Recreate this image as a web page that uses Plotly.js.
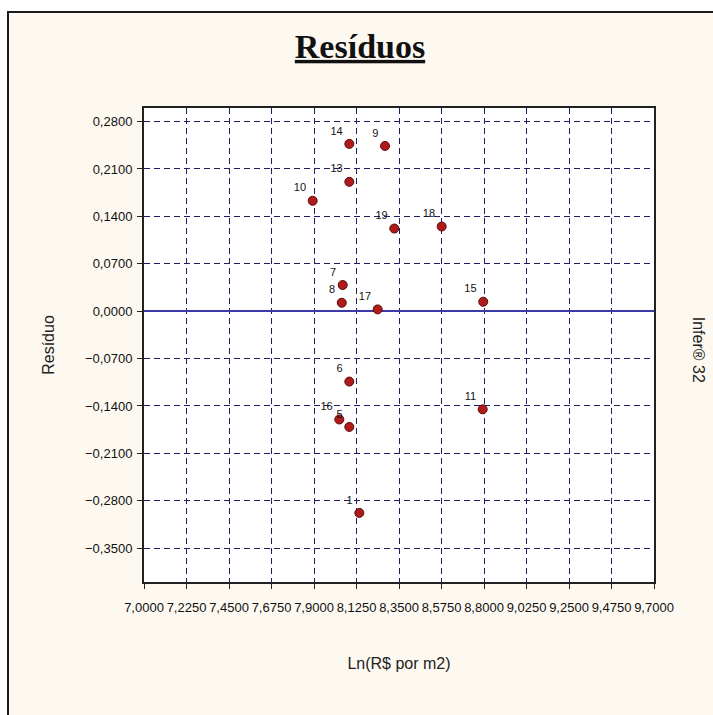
<!DOCTYPE html>
<html>
<head>
<meta charset="utf-8">
<script src="https://cdn.plot.ly/plotly-3.0.1.min.js"></script>
<style>
  html, body { margin: 0; padding: 0; background: #ffffff; }
  #frame { position: absolute; left: 7px; top: 11px; width: 720px; height: 720px;
           border-left: 2px solid #1a1a1a; border-top: 2px solid #1a1a1a; background: #fdf9f1; }
  #chart { position: absolute; left: 0; top: 0; width: 713px; height: 715px; }
</style>
</head>
<body>
<div id="frame"></div>
<div id="chart"></div>
<script>
// Observation numbers
const obsIds = ['1','5','6','7','8','9','10','11','13','14','15','16','17','18','19'];
// Ln(R$ por m2)
const lnPrice = [8.140, 8.087, 8.087, 8.052, 8.047, 8.276, 7.893, 8.793, 8.087, 8.087, 8.796, 8.034, 8.237, 8.576, 8.325];
// Resíduo
const residuals = [-0.298, -0.171, -0.104, 0.0386, 0.0124, 0.244, 0.163, -0.145, 0.191, 0.247, 0.0139, -0.160, 0.0026, 0.125, 0.122];

const xTicks = [7.0, 7.225, 7.45, 7.675, 7.9, 8.125, 8.35, 8.575, 8.8, 9.025, 9.25, 9.475, 9.7];
const yTicks = [0.28, 0.21, 0.14, 0.07, 0, -0.07, -0.14, -0.21, -0.28, -0.35];

const gridColor = '#1e1e60';
const trace = {
  type: 'scatter',
  mode: 'markers+text',
  x: lnPrice,
  y: residuals,
  text: obsIds,
  textposition: 'top left',
  textfont: { family: 'Liberation Sans, Arial, sans-serif', size: 11, color: '#111111' },
  marker: { symbol: 'circle', size: 9, color: '#b01a1a', line: { color: '#5a0808', width: 1 } },
  cliponaxis: false,
  hoverinfo: 'x+y+text'
};

const layout = {
  width: 713, height: 715,
  margin: { l: 144, r: 59, t: 108, b: 133 },
  paper_bgcolor: 'rgba(0,0,0,0)',
  plot_bgcolor: '#ffffff',
  separators: ',.',
  showlegend: false,
  title: {
    text: '<span style="text-decoration:underline">Resíduos</span>',
    font: { family: 'Liberation Serif, Times New Roman, serif', size: 34, color: '#111111', weight: 'bold' },
    x: 360 / 713, xref: 'container', xanchor: 'center',
    y: 1 - 46 / 715, yref: 'container', yanchor: 'middle'
  },
  xaxis: {
    range: [7.0, 9.7],
    tickmode: 'array', tickvals: xTicks, tickformat: '.4f', tickangle: 0,
    ticks: 'outside', ticklen: 5, tickcolor: '#222222', tickwidth: 1,
    ticklabelstandoff: 7,
    tickfont: { family: 'Liberation Sans, Arial, sans-serif', size: 13, color: '#111111' },
    showgrid: true, gridcolor: gridColor, gridwidth: 1.3, griddash: '6px,4px',
    zeroline: false,
    showline: true, linecolor: '#222222', linewidth: 2, mirror: true,
    title: { text: 'Ln(R$ por m2)', font: { family: 'Liberation Sans, Arial, sans-serif', size: 16, color: '#222222' }, standoff: 44 }
  },
  yaxis: {
    range: [-0.4, 0.3],
    tickmode: 'array', tickvals: yTicks, tickformat: '.4f',
    ticks: 'outside', ticklen: 5, tickcolor: '#222222', tickwidth: 1,
    ticklabelstandoff: 2,
    tickfont: { family: 'Liberation Sans, Arial, sans-serif', size: 13, color: '#111111' },
    showgrid: true, gridcolor: gridColor, gridwidth: 1.3, griddash: '6px,4px',
    zeroline: true, zerolinecolor: '#3a3aa8', zerolinewidth: 1.6,
    showline: true, linecolor: '#222222', linewidth: 2, mirror: true,
    title: { text: 'Resíduo', font: { family: 'Liberation Sans, Arial, sans-serif', size: 16, color: '#222222' }, standoff: 26 }
  },
  annotations: [{
    text: 'Infer® 32', xref: 'paper', yref: 'paper', x: 1 + 44 / 510, y: 0.49,
    xanchor: 'center', yanchor: 'middle', textangle: 90, showarrow: false,
    font: { family: 'Liberation Sans, Arial, sans-serif', size: 16, color: '#222222' }
  }]
};

Plotly.newPlot('chart', [trace], layout, { displayModeBar: false, staticPlot: false });
</script>
</body>
</html>
